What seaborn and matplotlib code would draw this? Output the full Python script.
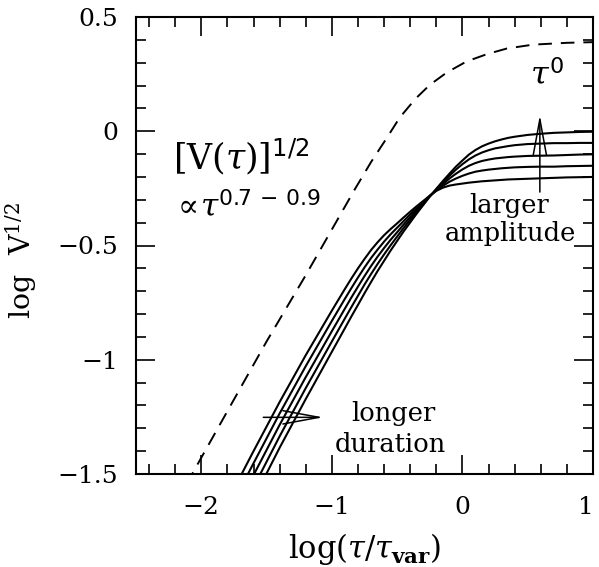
import numpy as np
import pandas as pd
import matplotlib
matplotlib.use("Agg")
import matplotlib.pyplot as plt
import matplotlib.transforms as mtransforms
import seaborn as sns
from matplotlib.ticker import MultipleLocator

# ---- data ----
x_grid = [-1.8, -1.6, -1.4, -1.2, -1.0, -0.9, -0.85, -0.8, -0.75, -0.7, -0.65, -0.6,
          -0.55, -0.5, -0.45, -0.4, -0.35, -0.3, -0.25, -0.2, -0.15, -0.1, -0.05, 0.0,
          0.05, 0.1, 0.15, 0.2, 0.25, 0.3, 0.35, 0.4, 0.5, 0.6, 0.7, 0.8, 0.9, 1.0]
curve_a = [-1.835, -1.61, -1.385, -1.172, -0.965, -0.862, -0.810, -0.76, -0.709, -0.66,
           -0.612, -0.567, -0.522, -0.48, -0.438, -0.399, -0.360, -0.323, -0.286, -0.252,
           -0.218, -0.186, -0.155, -0.128, -0.102, -0.082, -0.066, -0.054, -0.044, -0.036,
           -0.029, -0.024, -0.016, -0.011, -0.007, -0.005, -0.003, -0.002]
curve_b = [-1.781, -1.558, -1.335, -1.124, -0.92, -0.819, -0.769, -0.72, -0.671, -0.625,
           -0.581, -0.539, -0.499, -0.461, -0.423, -0.387, -0.352, -0.319, -0.285, -0.254,
           -0.223, -0.195, -0.168, -0.144, -0.123, -0.106, -0.093, -0.083, -0.075, -0.070,
           -0.065, -0.061, -0.056, -0.054, -0.052, -0.052, -0.051, -0.051]
curve_c = [-1.728, -1.505, -1.285, -1.076, -0.875, -0.776, -0.727, -0.68, -0.634, -0.59,
           -0.549, -0.511, -0.475, -0.442, -0.408, -0.376, -0.344, -0.314, -0.284, -0.257,
           -0.231, -0.207, -0.186, -0.167, -0.151, -0.139, -0.130, -0.124, -0.119, -0.116,
           -0.113, -0.111, -0.108, -0.107, -0.106, -0.104, -0.102, -0.101]
curve_d = [-1.674, -1.453, -1.235, -1.028, -0.83, -0.733, -0.686, -0.64, -0.596, -0.555,
           -0.518, -0.483, -0.451, -0.422, -0.393, -0.364, -0.337, -0.31, -0.283, -0.259,
           -0.239, -0.221, -0.207, -0.195, -0.185, -0.177, -0.172, -0.168, -0.165, -0.162,
           -0.160, -0.158, -0.156, -0.155, -0.155, -0.153, -0.152, -0.151]
curve_e = [-1.62, -1.40, -1.185, -0.98, -0.785, -0.69, -0.644, -0.60, -0.559, -0.52,
           -0.486, -0.455, -0.428, -0.403, -0.377, -0.352, -0.328, -0.305, -0.282, -0.261,
           -0.247, -0.238, -0.233, -0.229, -0.225, -0.222, -0.219, -0.217, -0.215, -0.213,
           -0.211, -0.210, -0.208, -0.206, -0.204, -0.202, -0.201, -0.200]

dash_x = [-2.2, -2.07, -1.8, -1.5, -1.2, -1.0, -0.82, -0.7, -0.58, -0.48,
          -0.36, -0.25, -0.12, 0.03, 0.19, 0.34, 0.54, 0.8, 1.0]
dash_y = [-1.63, -1.5, -1.225, -0.92, -0.63, -0.43, -0.25, -0.135, -0.03, 0.06,
          0.142, 0.203, 0.257, 0.305, 0.338, 0.362, 0.379, 0.387, 0.39]

xticks = [-2, -1, 0, 1]
xtick_labels = ["\u22122", "\u22121", "0", "1"]
yticks = [0.5, 0, -0.5, -1, -1.5]
ytick_labels = ["0.5", "0", "\u22120.5", "\u22121", "\u22121.5"]

# ---- style ----
sns.set_style("ticks")
plt.rcParams["font.family"] = ["DejaVu Serif"]
plt.rcParams["mathtext.fontset"] = "dejavuserif"
plt.rcParams["text.color"] = "black"
plt.rcParams["axes.edgecolor"] = "black"
plt.rcParams["xtick.color"] = "black"
plt.rcParams["ytick.color"] = "black"
plt.rcParams["axes.labelcolor"] = "black"

W, H = 599, 567
fig = plt.figure(figsize=(W / 100, H / 100), dpi=100)
ax = fig.add_axes([136 / W, (H - 474) / H, 457 / W, 457 / H])

names = ["a", "b", "c", "d", "e"]
curves = [curve_a, curve_b, curve_c, curve_d, curve_e]
df = pd.DataFrame({
    "x": x_grid * len(curves),
    "y": sum(curves, []),
    "curve": [n for n in names for _ in x_grid],
})
sns.lineplot(data=df, x="x", y="y", units="curve", estimator=None, color="black",
             lw=1.5, sort=False, ax=ax, legend=False)

sns.lineplot(x=dash_x, y=dash_y, color="black", lw=1.4, sort=False, ax=ax)
ax.lines[-1].set_dashes((7, 4.6))

ax.set_xlim(-2.5, 1)
ax.set_ylim(-1.5, 0.5)
ax.set_xticks(xticks, labels=xtick_labels)
ax.set_yticks(yticks, labels=ytick_labels)
ax.xaxis.set_minor_locator(MultipleLocator(0.2))
ax.yaxis.set_minor_locator(MultipleLocator(0.1))
ax.tick_params(which="both", direction="in", top=True, right=True, width=1.2)
ax.tick_params(which="major", length=14)
ax.tick_params(which="minor", length=7.5)
ax.tick_params(axis="y", which="major", pad=13, labelsize=18)
ax.tick_params(axis="x", which="major", pad=16, labelsize=18)
for s in ax.spines.values():
    s.set_linewidth(1.5)
    s.set_visible(True)

# nudge the last x tick label so it stays inside the canvas
last_lbl = ax.get_xticklabels()[-1]
last_lbl.set_transform(last_lbl.get_transform() +
                       mtransforms.ScaledTranslation(-5 / 72, 0, fig.dpi_scale_trans))

ax.set_xlabel(r"$\log(\tau/\tau_{\mathbf{var}})$", fontsize=22)
ax.xaxis.set_label_coords(0.5, -0.125)
ax.set_ylabel(r"$\log\;\;\mathrm{V}^{1/2}$", fontsize=20.5)
ax.yaxis.set_label_coords(-0.212, 0.468)

ax.text(-2.215, -0.113, r"$\left[\mathrm{V}(\tau)\right]^{\mathsf{1/2}}$",
        fontsize=25, ha="left", va="center")
ax.text(-2.225, -0.332, r"$\propto\!\tau^{\mathsf{0.7\,-\,0.9}}$",
        fontsize=22.5, ha="left", va="center")
ax.text(0.517, 0.242, r"$\tau^{\mathsf{0}}$", fontsize=23, ha="left", va="center")

ax.text(0.361, -0.323, "larger", fontsize=18.5, ha="center", va="center")
ax.text(0.370, -0.447, "amplitude", fontsize=18.5, ha="center", va="center")
ax.text(-0.530, -1.236, "longer", fontsize=18.5, ha="center", va="center")
ax.text(-0.555, -1.372, "duration", fontsize=18.5, ha="center", va="center")

arrow_kw = dict(arrowstyle="->,head_length=2.6,head_width=0.48", mutation_scale=10,
                lw=1.1, color="black", shrinkA=0, shrinkB=0)
ax.annotate("", xy=(0.593, 0.071), xytext=(0.593, -0.266), arrowprops=arrow_kw)
ax.annotate("", xy=(-1.066, -1.252), xytext=(-1.525, -1.252), arrowprops=arrow_kw)

fig.savefig("out.png", dpi=100)
